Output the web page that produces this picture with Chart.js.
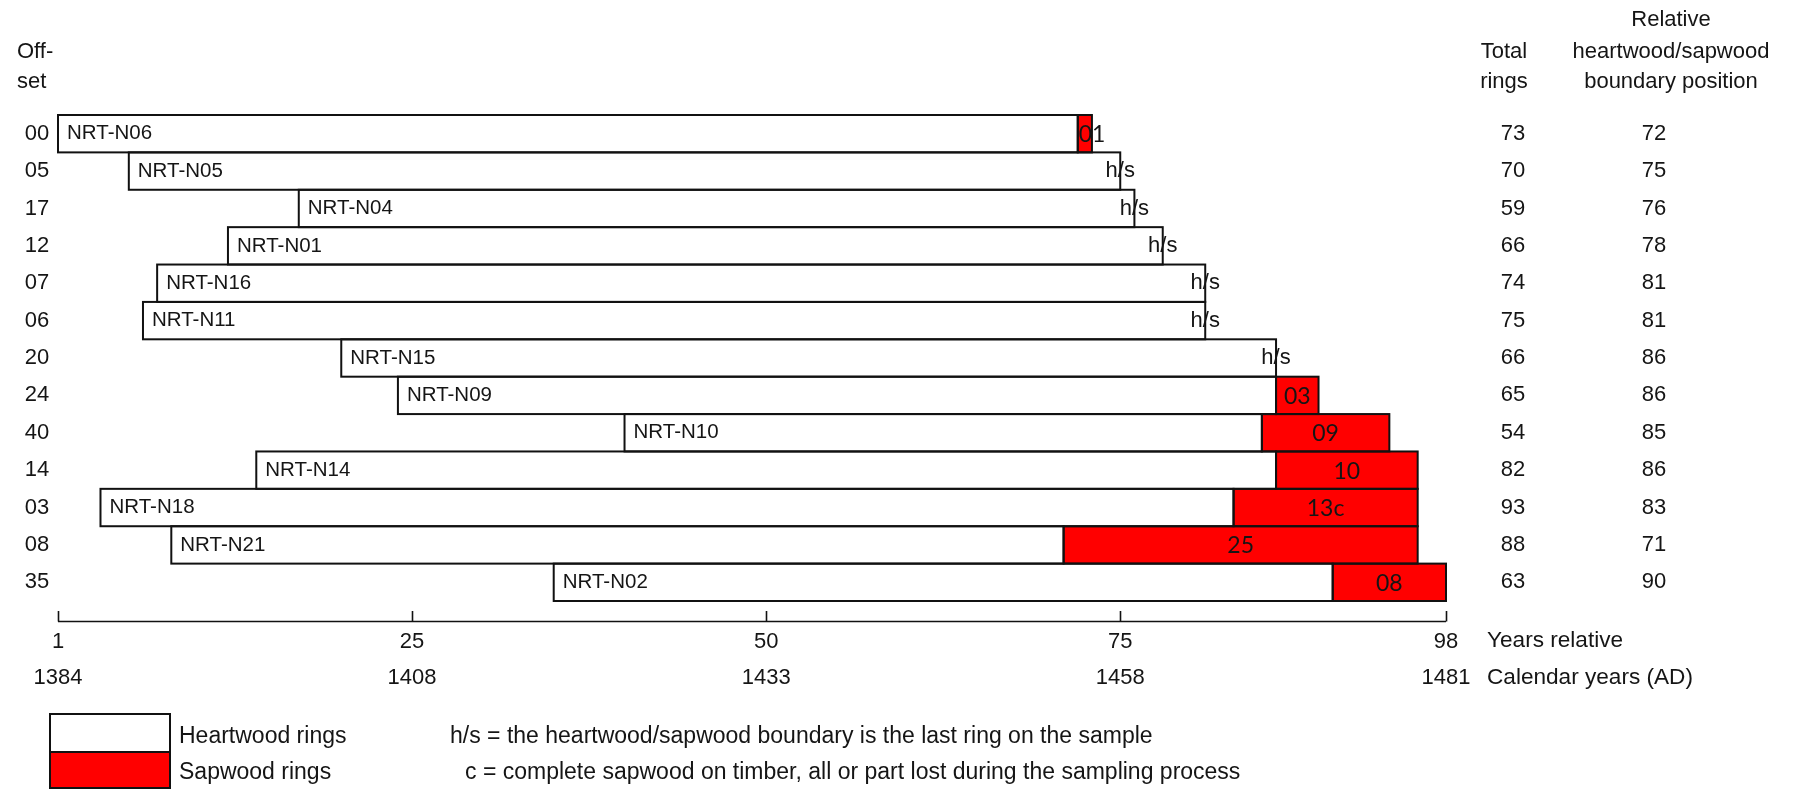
<!DOCTYPE html>
<html><head><meta charset="utf-8">
<script src="https://cdn.jsdelivr.net/npm/chart.js@4/dist/chart.umd.min.js"></script>
<style>html,body{margin:0;padding:0;background:#fff;} #wrap{width:1796px;height:790px;position:relative;}</style>
</head><body><div id="wrap"><canvas id="c" width="1796" height="790"></canvas></div>
<script>
// ---- data ----
const offsetLabels = ['00','05','17','12','07','06','20','24','40','14','03','08','35'];
const sampleNames = ['NRT-N06','NRT-N05','NRT-N04','NRT-N01','NRT-N16','NRT-N11','NRT-N15','NRT-N09','NRT-N10','NRT-N14','NRT-N18','NRT-N21','NRT-N02'];
const offsets = [0,5,17,12,7,6,20,24,40,14,3,8,35];
const totalRings = [73,70,59,66,74,75,66,65,54,82,93,88,63];
const hsBoundary = [72,75,76,78,81,81,86,86,85,86,83,71,90];
const sapLabels = ['01','h/s','h/s','h/s','h/s','h/s','h/s','03','09','10','13c','25','08'];
const tickValues = [0,25,50,75,98];
const relTickLabels = ['1','25','50','75','98'];
const calTickLabels = ['1384','1408','1433','1458','1481'];

const heartData = offsets.map((o,i)=>[o, hsBoundary[i]]);
const sapData = offsets.map((o,i)=> (o+totalRings[i] > hsBoundary[i]) ? [hsBoundary[i], o+totalRings[i]] : null);

const TXT = '#151515';
const F = '22px "Liberation Sans", Arial, sans-serif';
const FB = '20.5px "Liberation Sans", Arial, sans-serif';
const FL = '23px "Liberation Sans", Arial, sans-serif';
const FS = '23px Lato, "Open Sans", sans-serif';

const overlay = {
  id:'overlay',
  afterDatasetsDraw(chart){
    const ctx = chart.ctx, xs = chart.scales.x, ys = chart.scales.y;
    ctx.save();
    // bar outlines from the library's bar elements
    ctx.strokeStyle = '#111'; ctx.lineWidth = 2;
    chart.data.datasets.forEach((ds,di)=>{
      chart.getDatasetMeta(di).data.forEach((el,i)=>{
        if (ds.data[i] == null) return;
        const p = el.getProps(['x','y','base','height'], true);
        const l = Math.min(p.x,p.base), r = Math.max(p.x,p.base);
        ctx.strokeRect(l, p.y - p.height/2, r - l, p.height);
      });
    });
    ctx.fillStyle = TXT; ctx.font = F; ctx.textBaseline = 'middle';
    // headers
    ctx.textAlign = 'left';
    ctx.fillText('Off-', 17, 52);
    ctx.fillText('set', 17, 82);
    ctx.textAlign = 'center';
    ctx.fillText('Total', 1504, 52);
    ctx.fillText('rings', 1504, 82);
    ctx.fillText('Relative', 1671, 20);
    ctx.fillText('heartwood/sapwood', 1671, 52);
    ctx.fillText('boundary position', 1671, 82);
    // rows
    sampleNames.forEach((n,i)=>{
      const y = ys.getPixelForValue(i);
      ctx.font = F; ctx.fillStyle = TXT;
      ctx.textAlign = 'center';
      ctx.fillText(offsetLabels[i], 37, y);
      ctx.fillText(String(totalRings[i]), 1513, y);
      ctx.fillText(String(hsBoundary[i]), 1654, y);
      ctx.font = FB;
      ctx.textAlign = 'left';
      ctx.fillText(n, xs.getPixelForValue(offsets[i]) + 9, y);
      if (sapData[i] === null) {
        ctx.font = F;
        ctx.textAlign = 'center';
        ctx.fillText(sapLabels[i], xs.getPixelForValue(hsBoundary[i]), y);
      } else {
        ctx.font = FS;
        const s = xs.getPixelForValue(sapData[i][0]), e = xs.getPixelForValue(sapData[i][1]);
        const w = ctx.measureText(sapLabels[i]).width;
        const cx = Math.max((s+e)/2, s + w/2 + 1);
        ctx.textAlign = 'center';
        ctx.fillText(sapLabels[i], cx, y + 1);
      }
    });
    // axis
    const ay = 621.5;
    ctx.strokeStyle = '#111'; ctx.lineWidth = 1.6;
    ctx.beginPath();
    ctx.moveTo(xs.getPixelForValue(tickValues[0]), ay);
    ctx.lineTo(xs.getPixelForValue(tickValues[tickValues.length-1]), ay);
    tickValues.forEach(v=>{
      const x = Math.round(xs.getPixelForValue(v)) + 0.5;
      ctx.moveTo(x, ay); ctx.lineTo(x, 611);
    });
    ctx.stroke();
    ctx.font = F; ctx.fillStyle = TXT; ctx.textAlign = 'center';
    tickValues.forEach((v,k)=>{
      const x = xs.getPixelForValue(v);
      ctx.fillText(relTickLabels[k], x, 642);
      ctx.fillText(calTickLabels[k], x, 678);
    });
    ctx.font = '22.6px "Liberation Sans", Arial, sans-serif';
    ctx.textAlign = 'left';
    ctx.fillText('Years relative', 1487, 641);
    ctx.fillText('Calendar years (AD)', 1487, 678);
    // legend
    ctx.lineWidth = 2; ctx.strokeStyle = '#111';
    ctx.fillStyle = '#fff'; ctx.fillRect(50, 714, 120, 38); ctx.strokeRect(50, 714, 120, 38);
    ctx.fillStyle = '#ff0000'; ctx.fillRect(50, 752, 120, 36); ctx.strokeRect(50, 752, 120, 36);
    ctx.fillStyle = TXT; ctx.font = FL; ctx.textAlign = 'left';
    ctx.fillText('Heartwood rings', 179, 737);
    ctx.fillText('Sapwood rings', 179, 773);
    ctx.fillText('h/s = the heartwood/sapwood boundary is the last ring on the sample', 450, 737);
    ctx.fillText('c = complete sapwood on timber, all or part lost during the sampling process', 465, 773);
    ctx.restore();
  }
};

new Chart(document.getElementById('c'), {
  type:'bar',
  data:{
    labels: sampleNames,
    datasets:[
      {label:'Heartwood rings', data: heartData, backgroundColor:'#ffffff', borderWidth:0, grouped:false, barPercentage:1, categoryPercentage:1},
      {label:'Sapwood rings', data: sapData, backgroundColor:'#ff0000', borderWidth:0, grouped:false, barPercentage:1, categoryPercentage:1}
    ]
  },
  options:{
    indexAxis:'y', responsive:false, animation:false, devicePixelRatio:1,
    layout:{padding:{left:58, right:350, top:115, bottom:189}},
    scales:{
      x:{type:'linear', min:0, max:98, display:false},
      y:{type:'category', display:false}
    },
    plugins:{legend:{display:false}, tooltip:{enabled:false}}
  },
  plugins:[overlay]
});
</script>
</body></html>
